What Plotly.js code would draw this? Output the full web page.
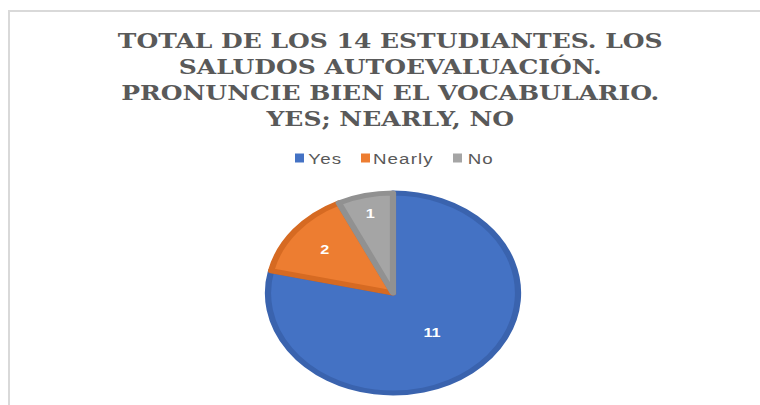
<!DOCTYPE html>
<html>
<head>
<meta charset="utf-8">
<script src="https://cdn.plot.ly/plotly-3.0.1.min.js"></script>
<style>
  html, body { margin:0; padding:0; background:#fff; }
  #wrap { position:relative; width:760px; height:405px; overflow:hidden; background:#fff; }
  #frame { position:absolute; left:8px; top:10px; width:760px; height:400px;
           border-left:2px solid #d9d9d9; border-top:2px solid #d9d9d9; box-sizing:border-box; }
  #plot { position:absolute; left:0; top:0; width:608px; height:405px;
          transform:scaleX(1.25); transform-origin:0 0; }
  #plot .annotation-text { letter-spacing:0.9px; }
</style>
</head>
<body>
<div id="wrap">
  <div id="frame"></div>
  <div id="plot"></div>
</div>
<script>
// ---- data ----
const categories = ["Yes", "Nearly", "No"];
const values = [11, 2, 1];
const titleText = "TOTAL DE LOS 14 ESTUDIANTES. LOS<br>SALUDOS AUTOEVALUACIÓN.<br>PRONUNCIE BIEN EL VOCABULARIO.<br>YES; NEARLY, NO";

// ---- styling / layout ----
const fillColors = ["#4472C4", "#ED7D31", "#A5A5A5"];
const lineColors = ["#3A63AE", "#D66A22", "#919191"];
const PW = 608, PH = 405;               // plot box before horizontal stretch
const legendSquareLeft = [236, 288.8, 362.4]; // px in plot box
const legendSquareSize = 7.2;           // horizontal px (stretched to ~9)
const legendTop = 153.5, legendBottom = 162.5, legendMid = 158;
const legendTextGap = 10.4;

const trace = {
  type: "pie",
  labels: categories,
  values: values,
  sort: false,
  direction: "clockwise",
  rotation: 0,
  marker: { colors: fillColors, line: { color: lineColors, width: 5 } },
  textinfo: "value",
  textposition: "inside",
  insidetextfont: { color: "#ffffff", size: 13, family: "Liberation Sans, Arial, sans-serif", weight: "bold" },
  domain: { x: [0.3526, 0.6816], y: [0.0296, 0.5235] },
  hoverinfo: "label+value",
  showlegend: false
};

const shapes = categories.map((c, i) => ({
  type: "rect", xref: "paper", yref: "paper",
  x0: legendSquareLeft[i] / PW, x1: (legendSquareLeft[i] + legendSquareSize) / PW,
  y0: 1 - legendBottom / PH, y1: 1 - legendTop / PH,
  fillcolor: fillColors[i], line: { width: 0 }
}));

const annotations = categories.map((c, i) => ({
  xref: "paper", yref: "paper",
  x: (legendSquareLeft[i] + legendTextGap) / PW, xanchor: "left",
  y: 1 - legendMid / PH, yanchor: "middle",
  text: c, showarrow: false,
  font: { family: "Liberation Sans, Arial, sans-serif", size: 15, color: "#595959" }
}));

const layout = {
  width: PW,
  height: PH,
  margin: { l: 0, r: 0, t: 0, b: 0 },
  paper_bgcolor: "rgba(0,0,0,0)",
  plot_bgcolor: "rgba(0,0,0,0)",
  title: {
    text: titleText,
    font: { family: "DejaVu Serif", size: 20, color: "#595959", weight: "bold" },
    x: 0.5135, xanchor: "center",
    y: 0.882, yanchor: "top", yref: "container"
  },
  showlegend: false,
  shapes: shapes,
  annotations: annotations
};

Plotly.newPlot("plot", [trace], layout, { displayModeBar: false, staticPlot: true });
</script>
</body>
</html>
